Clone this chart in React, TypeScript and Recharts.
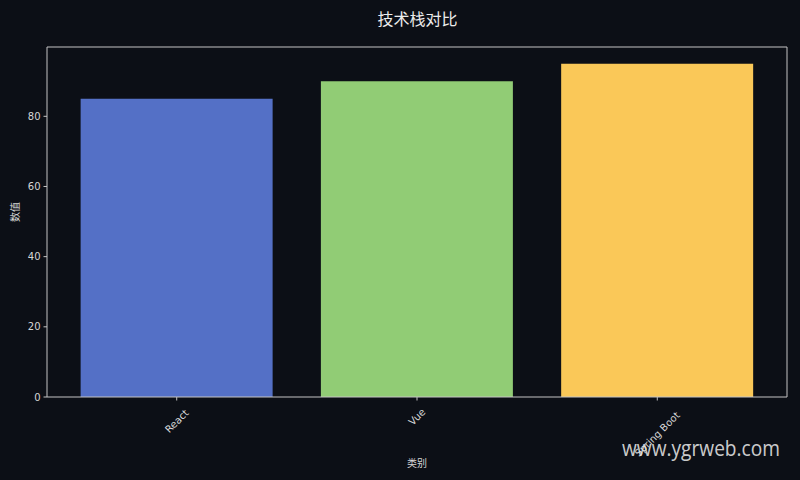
import { BarChart, Bar, XAxis, YAxis, Cell } from 'recharts';

const categories = ['React', 'Vue', 'Spring Boot'];
const values = [85, 90, 95];
const barColors = ['#5470c6', '#91cc75', '#fac858'];
const yTicks = [0, 20, 40, 60, 80];

const BG = '#0c0f16';
const FG = '#d6d6d6';
const AXIS = '#c4c4c4';
const FONT = '"DejaVu Sans", sans-serif';
const CJK = '"Noto Sans CJK SC", sans-serif';

const rows = categories.map((name, i) => ({ name, value: values[i] }));

// rotated 45°, centred on the tick like matplotlib's default
function RotatedTick(props: any) {
  const { x, y, payload } = props;
  const label = String(payload.value);
  const w = label.length * 6.1;
  const cy = y + 4 + ((w + 11) * 0.707) / 2;
  return (
    <text
      x={x}
      y={cy}
      textAnchor="middle"
      dominantBaseline="central"
      fill={FG}
      fontSize={10}
      fontFamily={FONT}
      transform={`rotate(-45 ${x} ${cy})`}
    >
      {label}
    </text>
  );
}

export default function App() {
  return (
    <div style={{ position: 'fixed', left: 0, top: 0, width: 800, height: 480, background: BG }}>
      <div
        style={{
          position: 'absolute', left: 47, width: 741, top: 7, textAlign: 'center',
          color: '#ececec', fontFamily: CJK, fontSize: 16, lineHeight: '22px',
        }}
      >
        技术栈对比
      </div>
      <BarChart
        width={800}
        height={480}
        data={rows}
        margin={{ top: 46, right: 12, bottom: 23, left: 7 }}
        barCategoryGap="10%"
      >
        <XAxis
          dataKey="name"
          padding={{ left: 9.6, right: 9.6 }}
          height={60}
          stroke={AXIS}
          tickSize={3.5}
          tickLine={{ stroke: AXIS }}
          interval={0}
          tick={<RotatedTick />}
          label={{ value: '类别', position: 'insideBottom', offset: -10, fill: FG, fontSize: 10, fontFamily: CJK }}
        />
        <XAxis xAxisId="top" dataKey="name" orientation="top" height={1} tick={false} tickLine={false} stroke={AXIS} />
        <YAxis
          domain={[0, 99.75]}
          ticks={yTicks}
          width={40}
          stroke={AXIS}
          tickSize={3.5}
          tickMargin={3}
          allowDataOverflow
          tick={{ fill: FG, fontSize: 10, fontFamily: FONT }}
          label={{ value: '数值', angle: -90, position: 'insideLeft', offset: 8, fill: FG, fontSize: 10, fontFamily: CJK }}
        />
        <YAxis
          yAxisId="right"
          orientation="right"
          type="number"
          domain={[0, 99.75]}
          width={1}
          tick={false}
          tickLine={false}
          stroke={AXIS}
        />
        <Bar dataKey="value" isAnimationActive={false}>
          {rows.map((r, i) => (
            <Cell key={r.name} fill={barColors[i]} />
          ))}
        </Bar>
      </BarChart>
      <svg width={800} height={480} style={{ position: 'absolute', left: 0, top: 0, pointerEvents: 'none' }}>
        <text
          x={622}
          y={456}
          textLength={158}
          lengthAdjust="spacingAndGlyphs"
          fill="#e4e4e4"
          fillOpacity={0.9}
          fontFamily='"Open Sans", sans-serif'
          fontSize={22}
        >
          www.ygrweb.com
        </text>
      </svg>
    </div>
  );
}
